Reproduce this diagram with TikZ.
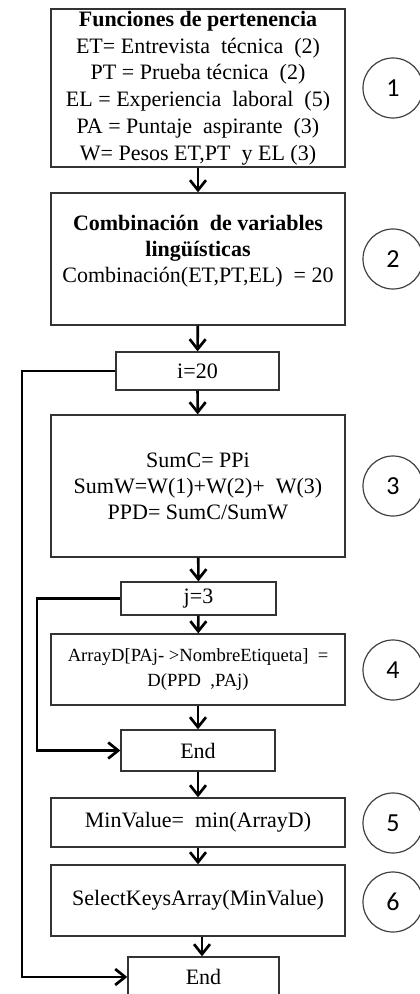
\documentclass[tikz,border=0pt]{standalone}
\usepackage{fontspec}
\setmainfont{Liberation Serif}
\newfontfamily\numfont{Carlito}
\usetikzlibrary{arrows.meta}

\begin{document}
\begin{tikzpicture}[x=0.5pt,y=-0.5pt,
    box/.style={draw=black!80,line width=0.65pt,inner sep=0pt,align=center,
      font=\fontsize{11}{13}\selectfont},
    num/.style={draw=black!75,line width=0.6pt,circle,minimum size=30pt,
      inner sep=0pt,font=\numfont\fontsize{13}{13}\selectfont},
    flow/.style={line width=1.35pt,-{Straight Barb[length=5pt,width=8pt]}}]
  \useasboundingbox (0,0) rectangle (419,994);
  % main column
  \node[box,minimum width=147pt,minimum height=79pt,
    font=\fontsize{11}{13.4}\selectfont] (f1) at (198,88)
    {\textbf{Funciones de pertenencia}\\
     ET= Entrevista~ técnica~ (2)\\
     PT = Prueba técnica~ (2)\\
     EL = Experiencia~ laboral~ (5)\\
     PA = Puntaje~ aspirante~ (3)\\
     W= Pesos ET,PT~ y EL (3)};
  \node[box,minimum width=147pt,minimum height=66pt] (f2) at (198,259)
    {\textbf{Combinación~ de variables}\\
     \textbf{lingüísticas}\\
     Combinación(ET,PT,EL)~ = 20\\[-2.5pt]\mbox{}};
  \node[box,minimum width=81.5pt,minimum height=19pt] (i) at (197.5,371) {i=20};
  \node[box,minimum width=147pt,minimum height=71pt] (f3) at (198,486)
    {SumC= PPi\\
     SumW=W(1)+W(2)+~ W(3)\\
     PPD= SumC/SumW};
  \node[box,minimum width=77.5pt,minimum height=16.5pt] (j) at (198.5,598.5) {j=3};
  \node[box,minimum width=147pt,minimum height=35.5pt,
    font=\fontsize{9.3}{12.5}\selectfont] (f4) at (198,669.5)
    {ArrayD[PAj- >NombreEtiqueta]~ =\\
     D(PPD~ ,PAj)};
  \node[box,minimum width=77pt,minimum height=20.5pt] (end1) at (198,750.5) {End};
  \node[box,minimum width=147pt,minimum height=24.5pt] (f5) at (198,822.5)
    {MinValue=~ min(ArrayD)};
  \node[box,minimum width=147pt,minimum height=35.5pt] (f6) at (198,900.5)
    {SelectKeysArray(MinValue)};
  \node[box,minimum width=75.5pt,minimum height=20pt] (end2) at (203.5,977) {End};

  % step numbers
  \foreach \k/\y in {1/88,2/259,3/486,4/670,5/823,6/902}
    \node[num] (n\k) at (393,\y) {\k};

  % connectors
  \draw[flow] (f1) -- (f2);
  \draw[flow] (f2) -- (i);
  \draw[flow] (i) -- (f3);
  \draw[flow] (f3) -- (j);
  \draw[flow] (j) -- (f4);
  \draw[flow] (f4) -- (end1);
  \draw[flow] (end1) -- (f5);
  \draw[flow] (f5) -- (f6);
  \draw[flow] (f6.south -| 202,0) -- (end2.north -| 202,0);

  % loops
  \coordinate (outer) at (22,371);
  \coordinate (inner) at (37,598.5);
  \draw[flow] (i.west) -- (outer) |- (end2.west);
  \draw[flow] (j.west) -- (inner) |- (end1.west);
\end{tikzpicture}
\end{document}
